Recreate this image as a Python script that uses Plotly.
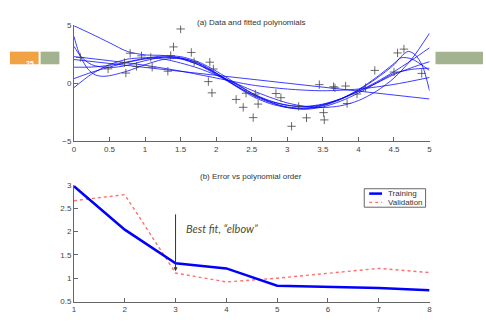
import plotly.graph_objects as go

# ---------------- data: panel (a) ----------------
pts_x = [0.09, 0.48, 0.71, 0.73, 0.79, 0.88, 0.95, 1.08, 1.10, 1.32, 1.36, 1.40, 1.50,
         1.65, 1.69, 1.91, 1.96, 1.89, 1.94, 2.28, 2.38, 2.42, 2.52, 2.55, 2.59, 2.84,
         2.91, 3.06, 3.16, 3.27, 3.45, 3.51, 3.52, 3.65, 3.67, 3.82, 3.84, 3.98, 4.10,
         4.23, 4.50, 4.55, 4.64, 4.89]
pts_y = [2.23, 1.24, 1.78, 0.88, 2.59, 1.46, 2.37, 2.23, 1.39, 1.04, 2.40, 3.14, 4.69,
         2.66, 1.85, 1.82, 1.23, 0.14, -0.83, -1.40, -2.08, -0.86, -2.97, -0.93, -1.80, -0.89,
         -1.25, -3.72, -2.00, -2.99, -0.12, -2.54, -3.17, -0.30, -0.40, -0.24, -1.75, -0.93, -0.38,
         1.11, 0.97, 2.62, 2.95, 0.85]

grid_x = [0, 0.25, 0.5, 0.75, 1.0, 1.25, 1.5, 1.75, 2.0, 2.25, 2.5, 2.75, 3.0, 3.25,
          3.5, 3.75, 4.0, 4.25, 4.5, 4.75, 5.0]

curve_a_x = grid_x
curve_a_y = [4.97, 4.25, 3.5, 2.75, 2.45, 2.4, 2.15, 1.6, 0.75, -0.15, -0.95, -1.55, -1.9,
             -2.0, -1.8, -1.35, -0.7, 0.1, 1.0, 2.0, 3.07]

curve_b_x = [0, 0.05, 0.1, 0.2, 0.3, 0.4, 0.5, 0.75, 1.0, 1.25, 1.5, 1.75, 2.0, 2.25, 2.5,
             2.75, 3.0, 3.25, 3.5, 3.75, 4.0, 4.25, 4.5, 4.6, 4.7, 4.8, 4.9, 5.0]
curve_b_y = [4.05, 3.0, 2.2, 1.2, 0.72, 0.6, 0.65, 1.05, 1.6, 2.05, 2.15, 1.75, 0.9, -0.15,
             -1.1, -1.75, -2.1, -2.2, -1.95, -1.4, -0.6, 0.4, 1.6, 2.3, 2.75, 2.45, 1.5, -0.65]

curve_c_x = [0, 0.1, 0.25, 0.5, 0.75, 1.0, 1.25, 1.5, 1.75, 2.0, 2.25, 2.5, 2.75, 3.0,
             3.25, 3.5, 3.75, 4.0, 4.25, 4.5, 4.6, 4.75, 5.0]
curve_c_y = [3.2, 2.3, 1.6, 1.35, 1.55, 1.95, 2.25, 2.2, 1.7, 0.85, -0.1, -1.0, -1.65, -2.05,
             -2.15, -1.9, -1.35, -0.55, 0.5, 1.7, 2.2, 2.1, 1.1]

curve_d_x = [0, 0.5, 1.0, 1.5, 2.0, 2.5, 3.0, 3.5, 4.0, 4.5, 5.0]
curve_d_y = [2.3, 1.95, 1.55, 1.05, 0.45, -0.15, -0.5, -0.65, -0.5, -0.1, 0.5]

curve_e_x = [0, 5.0]
curve_e_y = [2.05, -1.36]

curve_f_x = grid_x
curve_f_y = [1.39, 1.4, 1.55, 1.85, 2.15, 2.35, 2.3, 1.85, 1.05, 0.1, -0.85, -1.6, -2.1,
             -2.25, -2.05, -1.55, -0.85, 0.0, 0.85, 1.2, 1.3]

curve_g_x = grid_x
curve_g_y = [0.4, 0.95, 1.4, 1.8, 2.1, 2.25, 2.1, 1.6, 0.85, 0.0, -0.85, -1.5, -1.9,
             -2.05, -1.85, -1.35, -0.7, 0.0, 0.75, 1.35, 1.87]

curve_h_x = grid_x
curve_h_y = [-0.38, 0.8, 1.6, 2.08, 2.2, 2.1, 1.75, 1.3, 0.7, 0.05, -0.6, -1.2, -1.7,
             -2.0, -2.1, -1.95, -1.5, -0.7, 0.45, 2.1, 4.33]

curves = [(curve_a_x, curve_a_y), (curve_b_x, curve_b_y), (curve_c_x, curve_c_y),
          (curve_d_x, curve_d_y), (curve_e_x, curve_e_y), (curve_f_x, curve_f_y),
          (curve_g_x, curve_g_y), (curve_h_x, curve_h_y)]

# ---------------- data: panel (b) ----------------
order = [1, 2, 3, 4, 5, 6, 7, 8]
training_err = [2.97, 2.04, 1.32, 1.21, 0.84, 0.81, 0.79, 0.74]
validation_err = [2.66, 2.79, 1.11, 0.92, 1.0, 1.1, 1.21, 1.12]

top_xticks = [0, 0.5, 1, 1.5, 2, 2.5, 3, 3.5, 4, 4.5, 5]
top_yticks = [-5, 0, 5]
bot_xticks = [1, 2, 3, 4, 5, 6, 7, 8]
bot_yticks = [0.5, 1, 1.5, 2, 2.5, 3]

W, H = 486, 325
def px(x):
    return x / W
def py(y):
    return 1 - y / H

fig = go.Figure()

for cx, cy in curves:
    fig.add_trace(go.Scatter(x=cx, y=cy, mode="lines", xaxis="x", yaxis="y",
                             line=dict(color="rgba(0,0,255,0.85)", width=0.9,
                                       shape="spline", smoothing=0.8),
                             showlegend=False, hoverinfo="skip"))

fig.add_trace(go.Scatter(x=pts_x, y=pts_y, mode="markers", xaxis="x", yaxis="y",
                         marker=dict(symbol="cross-thin", size=6, color="#444",
                                     line=dict(width=0.8, color="#444")),
                         showlegend=False))

fig.add_trace(go.Scatter(x=order, y=validation_err, mode="lines", xaxis="x2", yaxis="y2",
                         line=dict(color="#ff7070", width=1.4, dash="dot"),
                         name="Validation", showlegend=False))
fig.add_trace(go.Scatter(x=order, y=training_err, mode="lines", xaxis="x2", yaxis="y2",
                         line=dict(color="#0000ff", width=2.5),
                         name="Training", showlegend=False))

axis_common = dict(showgrid=False, zeroline=False, showline=True, linecolor="#666",
                   linewidth=1, ticks="inside", ticklen=4, tickcolor="#666",
                   tickfont=dict(family="Liberation Sans, Arial", size=8, color="#444"))

fig.update_layout(
    width=W, height=H, margin=dict(l=0, r=0, t=0, b=0),
    paper_bgcolor="white", plot_bgcolor="white",
    xaxis=dict(domain=[px(72.7), px(432)], range=[0, 5], tickvals=top_xticks,
               ticktext=[f"{t:g}" for t in top_xticks], anchor="y", **axis_common),
    yaxis=dict(domain=[py(141), py(22)], range=[-5, 5], tickvals=top_yticks,
               anchor="x", **axis_common),
    xaxis2=dict(domain=[px(72.7), px(432)], range=[1, 8], tickvals=bot_xticks,
                anchor="y2", **axis_common),
    yaxis2=dict(domain=[py(306), py(186)], range=[0.5, 3], tickvals=bot_yticks,
                ticktext=[f"{t:g}" for t in bot_yticks], anchor="x2", **axis_common),
)

title_font = dict(family="Liberation Sans, Arial", size=8, color="#333")
fig.add_annotation(text="(a) Data and fitted polynomials", x=px(252), y=py(12),
                   xref="paper", yref="paper", showarrow=False, font=title_font)
fig.add_annotation(text="(b) Error vs polynomial order", x=px(252), y=py(177),
                   xref="paper", yref="paper", showarrow=False, font=title_font)

# arrow and elbow label
fig.add_annotation(x=3, y=1.15, ax=3, ay=2.4, xref="x2", yref="y2", axref="x2", ayref="y2",
                   showarrow=True, arrowhead=2, arrowsize=0.8, arrowwidth=1,
                   arrowcolor="#333", text="")
fig.add_annotation(text="<i>Best fit, \u201celbow\u201d</i>", x=px(184), y=py(240),
                   xref="paper", yref="paper", xanchor="left", showarrow=False,
                   font=dict(family="Lato, Open Sans", size=11, color="#4d4d33"))

# manual legend
shapes = [
    dict(type="rect", xref="paper", yref="paper", x0=px(366), x1=px(428), y0=py(209), y1=py(190),
         line=dict(color="#666", width=1), fillcolor="white"),
    dict(type="line", xref="paper", yref="paper", x0=px(371), x1=px(384), y0=py(195), y1=py(195),
         line=dict(color="#0000ff", width=2.5)),
    dict(type="line", xref="paper", yref="paper", x0=px(371), x1=px(384), y0=py(204), y1=py(204),
         line=dict(color="#ff7070", width=1.4, dash="dot")),
    # slide decorations
    dict(type="rect", xref="paper", yref="paper", x0=px(8), x1=px(37), y0=py(62), y1=py(49),
         line=dict(width=0), fillcolor="#f0a245"),
    dict(type="rect", xref="paper", yref="paper", x0=px(39), x1=px(58), y0=py(62), y1=py(49),
         line=dict(width=0), fillcolor="#a4b38f"),
    dict(type="rect", xref="paper", yref="paper", x0=px(438), x1=px(486), y0=py(62), y1=py(49),
         line=dict(width=0), fillcolor="#a4b38f"),
]
fig.update_layout(shapes=shapes)
leg_font = dict(family="Liberation Sans, Arial", size=8, color="#333")
fig.add_annotation(text="Training", x=px(388), y=py(195), xref="paper", yref="paper",
                   xanchor="left", showarrow=False, font=leg_font)
fig.add_annotation(text="Validation", x=px(388), y=py(204), xref="paper", yref="paper",
                   xanchor="left", showarrow=False, font=leg_font)
fig.add_annotation(text="<b>25</b>", x=px(22.5), y=py(55.5), xref="paper", yref="paper",
                   showarrow=False, font=dict(family="Liberation Sans, Arial", size=7, color="white"))

fig.write_html("out.html", config={"displayModeBar": False},
               post_script="document.body.style.margin='0';")
